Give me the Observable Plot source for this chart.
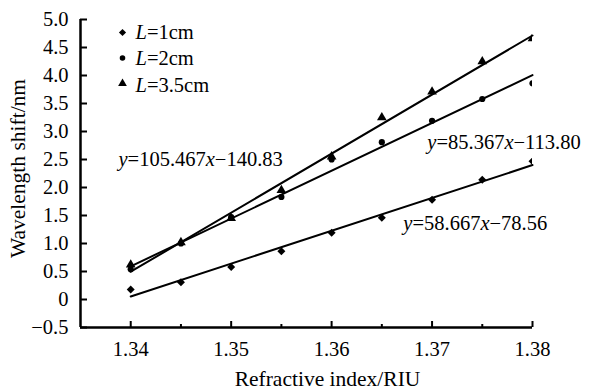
<!DOCTYPE html>
<html><head><meta charset="utf-8">
<script src="https://cdn.jsdelivr.net/npm/d3@7"></script>
<script src="https://cdn.jsdelivr.net/npm/@observablehq/plot@0.6"></script>
<style>
body{margin:0;background:#fff}
#chart svg{display:block}
</style>
</head><body><div id="chart"></div>
<script>
// ---- data ----
const refractiveIndex = [1.34, 1.345, 1.35, 1.355, 1.36, 1.365, 1.37, 1.375, 1.38];
const shiftL1  = [0.18, 0.31, 0.58, 0.86, 1.19, 1.46, 1.78, 2.14, 2.47];
const shiftL2  = [0.54, 1.00, 1.47, 1.83, 2.50, 2.81, 3.19, 3.58, 3.86];
const shiftL35 = [0.62, 1.02, 1.45, 1.95, 2.55, 3.25, 3.71, 4.25, 4.66];
const seriesNames = ["L=1cm", "L=2cm", "L=3.5cm"];
const seriesSymbols = ["diamond2", "circle", "triangle"];
const seriesR = [3.6, 3.1, 3.6];
const fitSlopes = [58.667, 85.367, 105.467];
const fitIntercepts = [-78.56, -113.80, -140.83];
const fitLabels = ["y=58.667x−78.56", "y=85.367x−113.80", "y=105.467x−140.83"];
const fitLabelX = [1.36714, 1.36953, 1.33878];
const fitLabelY = [1.35, 2.81, 2.51];
const xTicks = [1.34, 1.35, 1.36, 1.37, 1.38];
const xMinorTicks = [1.345, 1.355, 1.365, 1.375];
const yTicks = [-0.5, 0, 0.5, 1, 1.5, 2, 2.5, 3, 3.5, 4, 4.5, 5];
const xDomain = [1.335, 1.38];
const yDomain = [-0.5, 5];
const xTitle = "Refractive index/RIU";
const yTitle = "Wavelength shift/nm";

// ---- build tables ----
const shifts = [shiftL1, shiftL2, shiftL35];
const points = shifts.flatMap((s, i) => refractiveIndex.map((x, j) => ({series: i, x, y: s[j]})));
const fits = fitSlopes.flatMap((m, i) => [refractiveIndex[0], refractiveIndex[refractiveIndex.length - 1]]
  .map(x => ({series: i, x, y: m * x + fitIntercepts[i]})));
const fitText = fitLabels.map((t, i) => ({t, x: fitLabelX[i], y: fitLabelY[i]}));

const font = "'Liberation Serif', 'Times New Roman', serif";
const fs = 20.5;
const fmtY = d => d === 0 ? "0" : d.toFixed(1).replace("-", "−");

const marks = [
  Plot.ruleX([xDomain[0]], {strokeWidth: 2.5}),
  Plot.ruleY([yDomain[0]], {strokeWidth: 2.5}),
  Plot.axisY(yTicks, {anchor: "left", tickSize: -7, tickPadding: 19, strokeWidth: 2, tickFormat: fmtY, label: null, fontSize: fs}),
  Plot.axisX(xTicks, {anchor: "bottom", tickSize: -6, tickPadding: 20, strokeWidth: 2, tickFormat: d => d.toFixed(2), label: null, fontSize: fs}),
  Plot.axisX(xMinorTicks, {anchor: "bottom", tickSize: -3, strokeWidth: 2, tickFormat: () => "", label: null}),
  Plot.line(fits, {x: "x", y: "y", z: "series", stroke: "black", strokeWidth: 2}),
];
seriesNames.forEach((name, i) => {
  marks.push(Plot.dot(points.filter(d => d.series === i), {x: "x", y: "y", symbol: () => seriesSymbols[i], r: seriesR[i], fill: "black", stroke: "none", clip: true}));
  marks.push(Plot.dot([name], {frameAnchor: "top-left", dx: 42, dy: 13 + 25.5 * i, symbol: () => seriesSymbols[i], r: seriesR[i] * 0.9, fill: "black", stroke: "none"}));
  marks.push(Plot.text([name], {frameAnchor: "top-left", dx: 55, dy: 12.5 + 26.5 * i, text: d => d, textAnchor: "start", lineAnchor: "middle", fontSize: fs, fill: "black"}));
});
marks.push(Plot.text(fitText, {x: "x", y: "y", text: "t", textAnchor: "start", lineAnchor: "middle", fontSize: fs, fill: "black"}));
marks.push(Plot.text([xTitle], {frameAnchor: "bottom", dx: 21, dy: 51.5, text: d => d, textAnchor: "middle", lineAnchor: "middle", fontSize: 21.5, fill: "black"}));
marks.push(Plot.text([yTitle], {frameAnchor: "left", dx: -62, dy: -5, rotate: -90, text: d => d, textAnchor: "middle", lineAnchor: "middle", fontSize: 21.5, fill: "black"}));

const chart = Plot.plot({
  width: 590, height: 391,
  marginLeft: 80, marginRight: 58, marginTop: 19, marginBottom: 64,
  style: {fontFamily: font, color: "black", background: "white"},
  x: {domain: xDomain, axis: null},
  y: {domain: yDomain, axis: null},
  symbol: {type: "identity"},
  marks
});
document.getElementById("chart").appendChild(chart);

// italicize variable letters (L, x, y) in legend and equations
d3.select(chart).selectAll("text").each(function() {
  const s = this.textContent;
  if (!/^(y=|L=)/.test(s)) return;
  const el = d3.select(this);
  el.text(null);
  for (const ch of s) {
    const t = el.append("tspan").text(ch);
    if (ch === "x" || ch === "y" || ch === "L") t.attr("font-style", "italic");
  }
});
</script>
</body></html>
